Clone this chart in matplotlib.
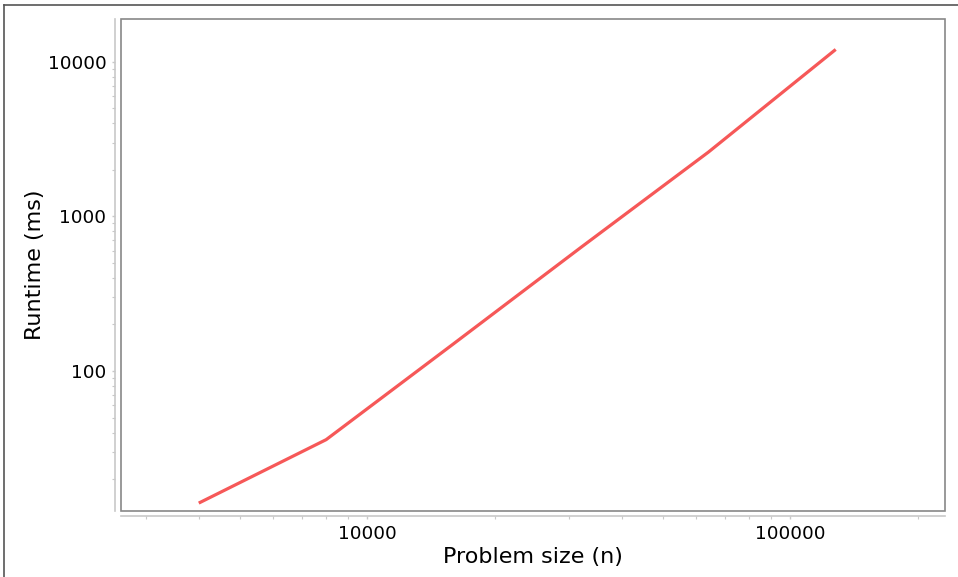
import matplotlib
matplotlib.use('Agg')
import matplotlib.pyplot as plt
from matplotlib.lines import Line2D
from matplotlib.patches import Rectangle
from matplotlib.ticker import LogLocator, FuncFormatter, NullFormatter

# problem sizes and measured runtimes (ms)
sizes = [4000, 8000, 16000, 32000, 64000, 128000]
runtimes = [14, 36, 150, 630, 2600, 12000]

W, H = 958, 577
fig = plt.figure(figsize=(W / 100, H / 100), dpi=100)

# outer frame of the chart panel
fig.add_artist(Line2D([4 / W, 4 / W], [0, 1 - 5 / H], color='#555555', lw=1.2))
fig.add_artist(Line2D([4 / W, 1], [1 - 5 / H, 1 - 5 / H], color='#555555', lw=1.2))

left, right = 121 / W, 945 / W
bottom, top = 1 - 510.7 / H, 1 - 19.3 / H
ax = fig.add_axes([left, bottom, right - left, top - bottom])

ax.plot(sizes, runtimes, color='#f65858', lw=2.3, solid_capstyle='butt')

ax.set_xscale('log')
ax.set_yscale('log')
ax.set_xlim(2620, 232000)
ax.set_ylim(12.5, 18800)

plain = FuncFormatter(lambda v, p: '%d' % round(v))
ax.xaxis.set_major_locator(LogLocator(base=10))
ax.yaxis.set_major_locator(LogLocator(base=10))
ax.xaxis.set_major_formatter(plain)
ax.yaxis.set_major_formatter(plain)
ax.xaxis.set_minor_locator(LogLocator(base=10, subs=range(2, 10)))
ax.yaxis.set_minor_locator(LogLocator(base=10, subs=range(2, 10)))
ax.xaxis.set_minor_formatter(NullFormatter())
ax.yaxis.set_minor_formatter(NullFormatter())

for s in ['top', 'right']:
    ax.spines[s].set_visible(False)
for s in ['left', 'bottom']:
    ax.spines[s].set_position(('outward', 4))
    ax.spines[s].set_color('#c8c8c8')
    ax.spines[s].set_linewidth(1.2)

# plot area box
ax.add_patch(Rectangle((0, 0), 1, 1, transform=ax.transAxes, fill=False,
                       edgecolor='#888888', lw=1.2, clip_on=False))

ax.tick_params(which='both', direction='out', color='#c8c8c8', labelsize=13.3,
               labelcolor='black')
ax.tick_params(which='major', length=2.5, width=1, pad=4)
ax.tick_params(which='minor', length=2, width=0.8)

ax.set_xlabel('Problem size (n)', fontsize=16, labelpad=3)
ax.set_ylabel('Runtime (ms)', fontsize=16, labelpad=2)

fig.savefig('out.png', dpi=100)
